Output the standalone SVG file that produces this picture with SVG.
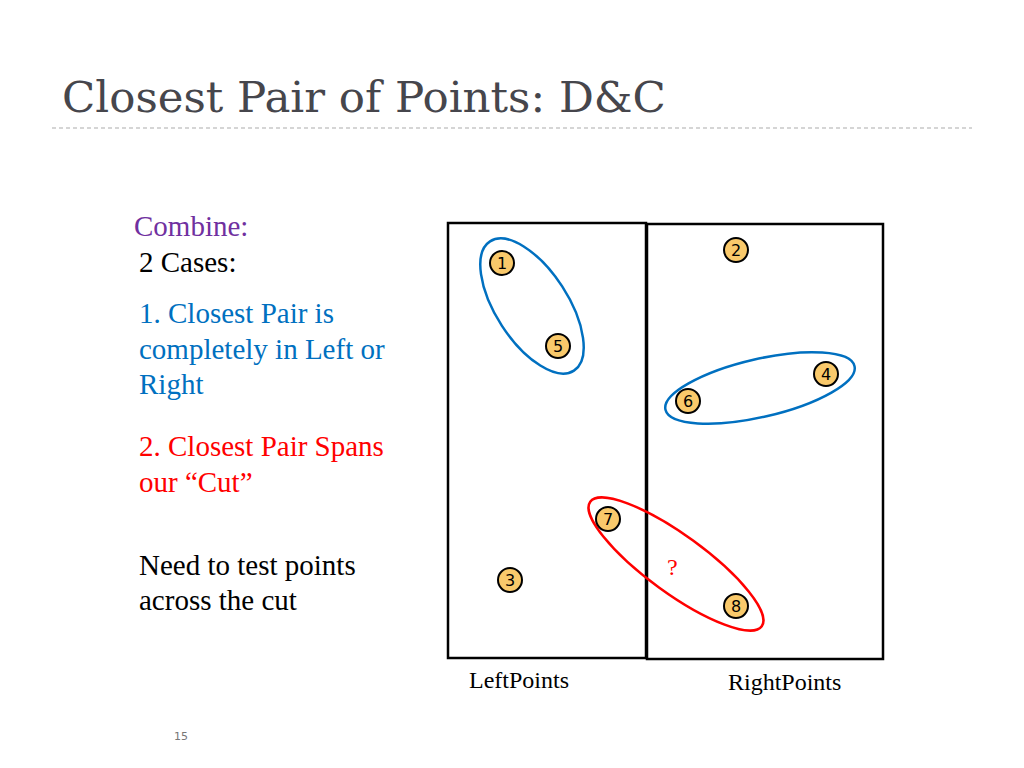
<svg xmlns="http://www.w3.org/2000/svg" width="1024" height="768" viewBox="0 0 1024 768">
<style>
.pt circle{fill:#f9c96b;stroke:#000;stroke-width:2}
.e{fill:none;stroke-width:2.5}
</style>
<rect width="1024" height="768" fill="#fff"/>
<text x="62" y="112" font-family="DejaVu Serif, serif" font-size="43.5" fill="#46464c">Closest Pair of Points: D&amp;C</text>
<line x1="52" y1="128" x2="972" y2="128" stroke="#c8c8c8" stroke-width="1.5" stroke-dasharray="4,3"/>
<g font-family="Liberation Serif, serif" font-size="29">
<text x="134" y="236" fill="#7030a0">Combine:</text>
<text x="139" y="272">2 Cases:</text>
<text fill="#0070c0"><tspan x="139" y="323">1. Closest Pair is</tspan><tspan x="139" y="359">completely in Left or</tspan><tspan x="139" y="394">Right</tspan></text>
<text fill="#ff0000"><tspan x="139" y="456">2. Closest Pair Spans</tspan><tspan x="139" y="492">our “Cut”</tspan></text>
<text><tspan x="139" y="575">Need to test points</tspan><tspan x="139" y="610">across the cut</tspan></text>
</g>
<text x="469" y="688" font-family="Liberation Serif, serif" font-size="24">LeftPoints</text>
<text x="728" y="690" font-family="Liberation Serif, serif" font-size="24">RightPoints</text>
<text x="174" y="740" font-family="DejaVu Sans, sans-serif" font-size="11" fill="#777">15</text>
<g id="left"><rect x="448" y="223" width="198" height="435" fill="none" stroke="#000" stroke-width="2.5"/></g>
<g id="right"><rect x="647" y="224" width="236" height="435" fill="none" stroke="#000" stroke-width="2.5"/></g>
<g id="connectors">
<ellipse class="e" stroke="#0070c0" cx="532" cy="306" rx="77" ry="36" transform="rotate(57 532 306)"/>
<ellipse class="e" stroke="#0070c0" cx="760" cy="388" rx="97" ry="29" transform="rotate(-13 760 388)"/>
<ellipse class="e" stroke="#ff0000" cx="676" cy="564" rx="106" ry="29" transform="rotate(36 676 564)"/>
</g>
<text x="667" y="575" font-family="Liberation Serif, serif" font-size="24" fill="#ff0000">?</text>
<g font-family="DejaVu Sans, sans-serif" font-size="16" text-anchor="middle">
<g id="p1" class="pt"><circle cx="502" cy="263" r="12"/><text x="502" y="269">1</text></g>
<g id="p2" class="pt"><circle cx="736" cy="250" r="12"/><text x="736" y="256">2</text></g>
<g id="p3" class="pt"><circle cx="510" cy="580" r="12"/><text x="510" y="586">3</text></g>
<g id="p4" class="pt"><circle cx="826" cy="374" r="12"/><text x="826" y="380">4</text></g>
<g id="p5" class="pt"><circle cx="558" cy="346" r="12"/><text x="558" y="352">5</text></g>
<g id="p6" class="pt"><circle cx="688" cy="401" r="12"/><text x="688" y="407">6</text></g>
<g id="p7" class="pt"><circle cx="608" cy="519" r="12"/><text x="608" y="525">7</text></g>
<g id="p8" class="pt"><circle cx="736" cy="606" r="12"/><text x="736" y="612">8</text></g>
</g>
</svg>
